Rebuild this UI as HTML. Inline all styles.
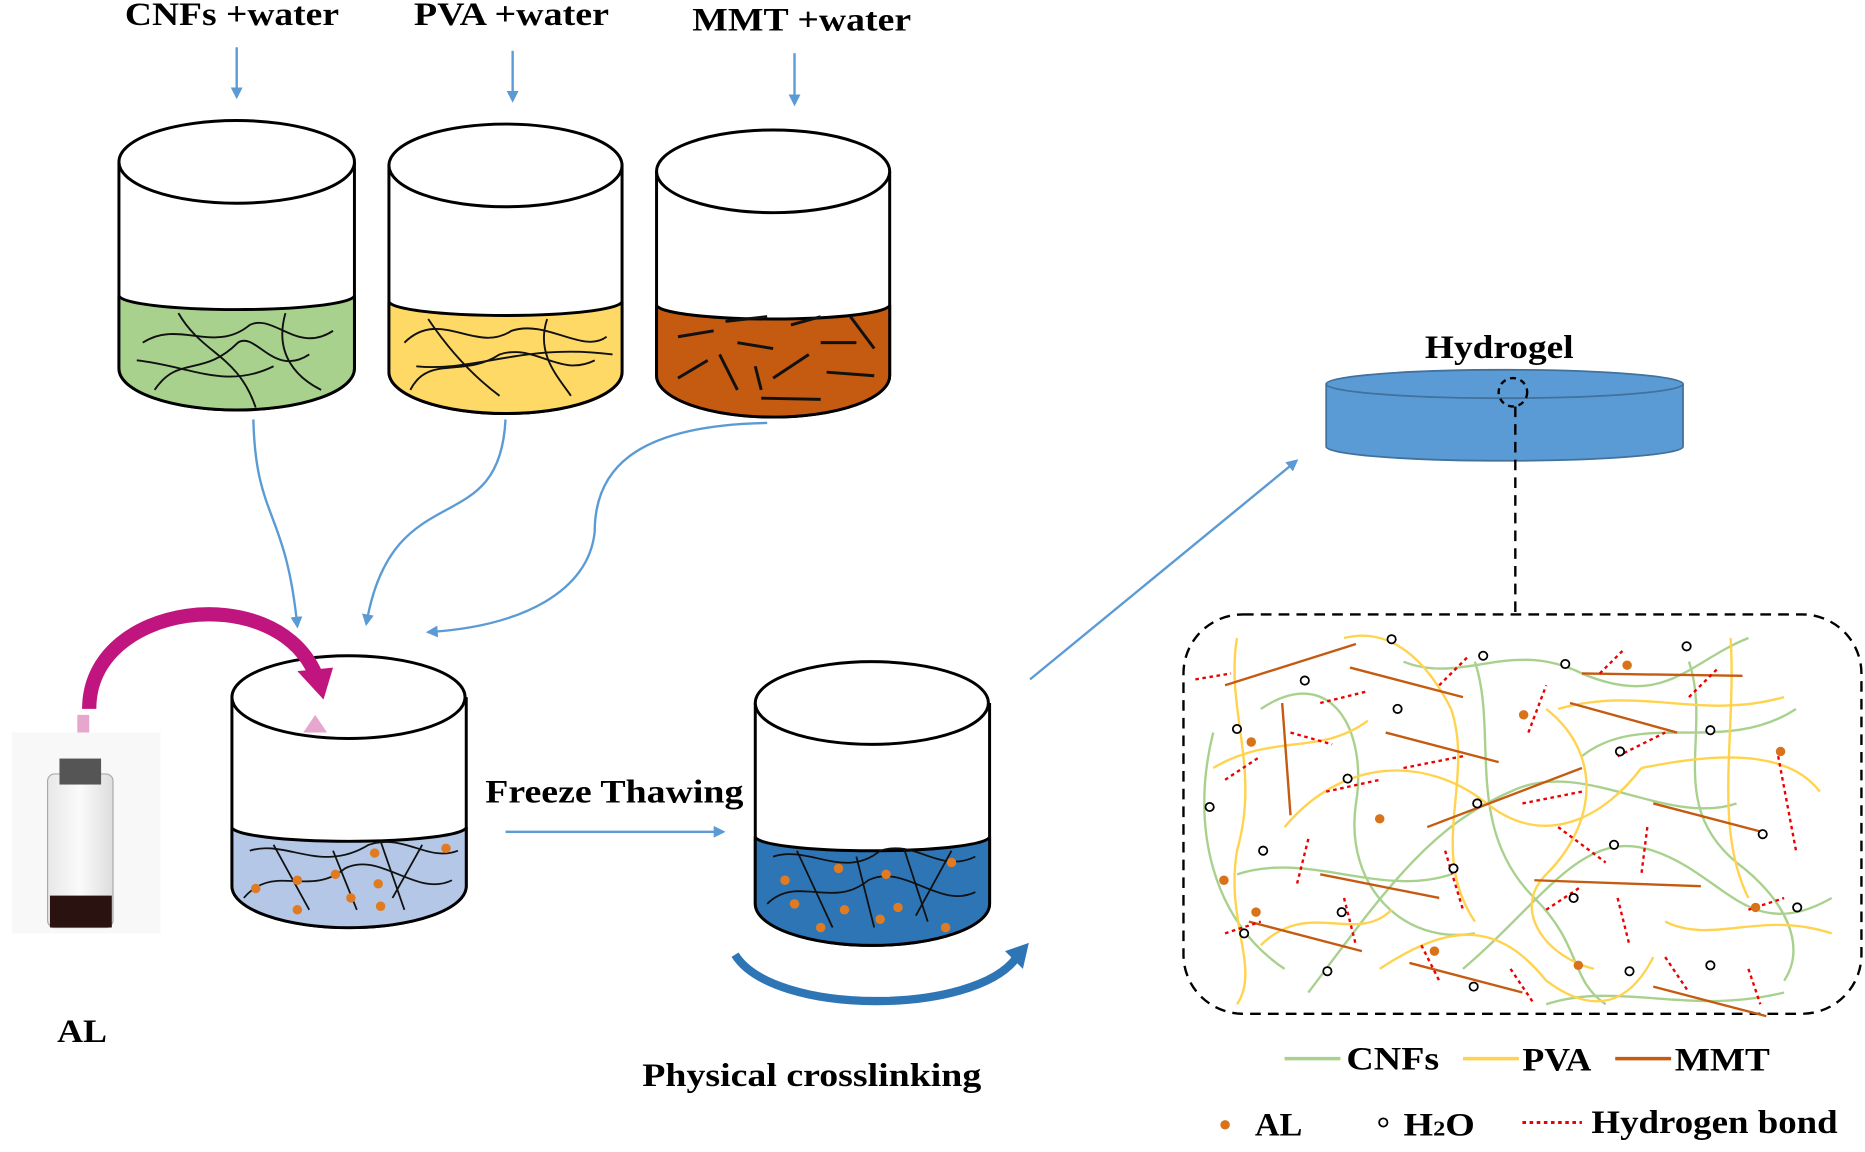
<!DOCTYPE html>
<html><head><meta charset="utf-8"><style>html,body{margin:0;padding:0;background:#fff}svg{display:block}text{font-family:"Liberation Serif",serif;font-weight:bold}</style></head><body>
<svg width="1865" height="1152" viewBox="0 0 1568 975" preserveAspectRatio="none" xmlns="http://www.w3.org/2000/svg">
<defs>
<marker id="ab" markerWidth="10" markerHeight="10" refX="8" refY="5" orient="auto" markerUnits="userSpaceOnUse"><path d="M0,0 L10,5 L0,10 z" fill="#5b9bd5"/></marker>
<linearGradient id="vial" x1="0" x2="1"><stop offset="0" stop-color="#e8e8e8"/><stop offset=".5" stop-color="#fafafa"/><stop offset="1" stop-color="#ddd"/></linearGradient>
</defs>
<g font-size="28" fill="#000" lengthAdjust="spacingAndGlyphs">
<text x="105" y="21" textLength="180" lengthAdjust="spacingAndGlyphs">CNFs +water</text>
<text x="348" y="21" textLength="164" lengthAdjust="spacingAndGlyphs">PVA +water</text>
<text x="582" y="26" textLength="184" lengthAdjust="spacingAndGlyphs">MMT +water</text>
<text x="1198" y="303" textLength="125" lengthAdjust="spacingAndGlyphs">Hydrogel</text>
<text x="408" y="679" textLength="217" lengthAdjust="spacingAndGlyphs">Freeze Thawing</text>
<text x="48" y="882" textLength="42" lengthAdjust="spacingAndGlyphs">AL</text>
<text x="540" y="919" textLength="285" lengthAdjust="spacingAndGlyphs">Physical crosslinking</text>
</g>
<g stroke="#5b9bd5" stroke-width="2" fill="none" marker-end="url(#ab)">
<line x1="199" y1="40" x2="199" y2="82"/>
<line x1="431" y1="43" x2="431" y2="85"/>
<line x1="668" y1="45" x2="668" y2="88"/>
<path d="M213,355 C215,440 240,430 250,530"/>
<path d="M425,355 C420,460 330,400 308,528"/>
<path d="M645,358 C530,360 500,400 500,450 C495,500 440,530 360,535"/>
<line x1="425" y1="704" x2="608" y2="704"/>
<line x1="866" y1="575" x2="1090" y2="390"/>
</g>
<g stroke="#000" stroke-width="2.5">
<path d="M100,137 V312 A99,35 0 0 0 298,312 V137" fill="#fff"/>
<path d="M100,250 A99,12 0 0 0 298,250 V312 A99,35 0 0 1 100,312 Z" fill="#a9d18e"/>
<ellipse cx="199" cy="137" rx="99" ry="35" fill="#fff"/>
<path d="M327,140 V315 A98,35 0 0 0 523,315 V140" fill="#fff"/>
<path d="M327,255 A98,12 0 0 0 523,255 V315 A98,35 0 0 1 327,315 Z" fill="#ffd966"/>
<ellipse cx="425" cy="140" rx="98" ry="35" fill="#fff"/>
<path d="M552,145 V318 A98,35 0 0 0 748,318 V145" fill="#fff"/>
<path d="M552,258 A98,12 0 0 0 748,258 V318 A98,35 0 0 1 552,318 Z" fill="#c55a11"/>
<ellipse cx="650" cy="145" rx="98" ry="35" fill="#fff"/>
<path d="M195,590 V750 A98,35 0 0 0 392,750 V590" fill="#fff"/>
<path d="M195,700 A98,12 0 0 0 392,700 V750 A98,35 0 0 1 195,750 Z" fill="#b4c7e7"/>
<ellipse cx="293" cy="590" rx="98" ry="35" fill="#fff"/>
<path d="M635,595 V765 A98,35 0 0 0 832,765 V595" fill="#fff"/>
<path d="M635,708 A98,12 0 0 0 832,708 V765 A98,35 0 0 1 635,765 Z" fill="#2e75b6"/>
<ellipse cx="733" cy="595" rx="98" ry="35" fill="#fff"/>
</g>
<g stroke="#111" stroke-width="1.6" fill="none">
<path d="M120,290 C150,270 180,300 210,275 C230,265 250,300 280,280"/>
<path d="M130,330 C150,300 170,320 200,290 C215,280 230,320 260,300"/>
<path d="M150,265 C170,300 200,300 215,345"/>
<path d="M240,265 C230,300 250,320 270,330"/>
<path d="M115,305 C160,310 190,330 230,310"/>
<path d="M340,290 C370,260 400,300 430,280 C460,270 490,300 510,285"/>
<path d="M345,330 C360,300 390,320 420,300 C450,290 470,320 500,305"/>
<path d="M360,270 C380,300 400,320 420,335"/>
<path d="M460,270 C450,300 470,320 480,335"/>
<path d="M350,310 C400,315 440,290 515,300"/>
</g>
<g stroke="#111" stroke-width="2.5">
<line x1="570" y1="285" x2="600" y2="280"/><line x1="610" y1="272" x2="645" y2="268"/><line x1="665" y1="275" x2="690" y2="268"/><line x1="715" y1="268" x2="735" y2="295"/>
<line x1="570" y1="320" x2="595" y2="305"/><line x1="605" y1="300" x2="620" y2="330"/><line x1="635" y1="310" x2="640" y2="330"/><line x1="650" y1="320" x2="680" y2="300"/>
<line x1="690" y1="290" x2="720" y2="290"/><line x1="695" y1="315" x2="735" y2="318"/><line x1="640" y1="337" x2="690" y2="338"/><line x1="620" y1="290" x2="650" y2="295"/>
</g>
<g stroke="#111" stroke-width="1.5" fill="none">
<path d="M210,720 C240,710 270,740 310,715 C340,705 360,730 385,720"/>
<path d="M205,760 C230,730 260,760 290,735 C320,720 350,760 380,745"/>
<path d="M230,715 L260,770 M320,712 L340,770 M355,715 L330,760 M280,720 L300,770"/>
<path d="M650,725 C680,715 710,745 740,720 C770,710 790,740 820,725"/>
<path d="M645,765 C670,740 700,770 730,745 C760,730 790,770 820,755"/>
<path d="M670,720 L700,785 M760,718 L780,780 M800,720 L770,775 M720,725 L735,785"/>
</g>
<g fill="#e07b22">
<circle cx="250" cy="745" r="4"/><circle cx="282" cy="740" r="4"/><circle cx="315" cy="722" r="4"/><circle cx="375" cy="718" r="4"/><circle cx="318" cy="748" r="4"/><circle cx="295" cy="760" r="4"/><circle cx="320" cy="767" r="4"/><circle cx="215" cy="752" r="4"/><circle cx="250" cy="770" r="4"/>
<circle cx="660" cy="745" r="4"/><circle cx="705" cy="735" r="4"/><circle cx="745" cy="740" r="4"/><circle cx="800" cy="730" r="4"/><circle cx="668" cy="765" r="4"/><circle cx="710" cy="770" r="4"/><circle cx="755" cy="768" r="4"/><circle cx="690" cy="785" r="4"/><circle cx="795" cy="785" r="4"/><circle cx="740" cy="778" r="4"/>
</g>
<path d="M75,600 C75,510 230,490 265,570" stroke="#c0157f" stroke-width="12" fill="none"/>
<path d="M250,568 L280,565 L272,592 z" fill="#c0157f"/>
<path d="M70,605 V620" stroke="#e6a6cd" stroke-width="10"/>
<path d="M255,620 L275,620 L265,605z" fill="#e6a6cd"/>
<rect x="10" y="620" width="125" height="170" fill="#f3f3f3" opacity=".6"/>
<rect x="40" y="655" width="55" height="130" rx="6" fill="url(#vial)" stroke="#aaa"/>
<rect x="50" y="642" width="35" height="22" fill="#555"/>
<rect x="42" y="758" width="52" height="27" fill="#2a1210"/>
<path d="M618,808 C650,860 820,860 855,810" stroke="#2e75b6" stroke-width="7" fill="none"/>
<path d="M845,805 L865,798 L860,820z" fill="#2e75b6"/>
<path d="M1115,325 V378 A150,12 0 0 0 1415,378 V325" fill="#5b9bd5" stroke="#41719c" stroke-width="1.5"/>
<ellipse cx="1265" cy="325" rx="150" ry="12" fill="#5b9bd5" stroke="#41719c" stroke-width="1.5"/>
<circle cx="1272" cy="332" r="12" fill="none" stroke="#000" stroke-width="2" stroke-dasharray="5,4"/>
<line x1="1274" y1="344" x2="1274" y2="520" stroke="#000" stroke-width="2" stroke-dasharray="9,6"/>
<rect x="995" y="520" width="570" height="338" rx="50" fill="none" stroke="#000" stroke-width="2" stroke-dasharray="9,6"/>
<g fill="none" stroke-width="2">
<g stroke="#a9d18e">
<path d="M1020,620 C1000,700 1020,780 1080,820"/>
<path d="M1060,600 C1120,560 1150,620 1140,680 C1130,750 1180,800 1240,790"/>
<path d="M1100,840 C1160,760 1200,700 1270,670 C1330,640 1400,700 1460,680"/>
<path d="M1180,560 C1230,580 1270,540 1330,570 C1400,600 1420,560 1470,540"/>
<path d="M1230,820 C1300,760 1330,700 1390,720 C1450,740 1470,800 1540,760"/>
<path d="M1330,640 C1380,600 1450,640 1510,600"/>
<path d="M1040,740 C1100,720 1160,760 1220,740"/>
<path d="M1300,850 C1360,830 1420,860 1500,840"/>
<path d="M1240,560 C1260,620 1230,700 1290,760 C1330,800 1320,830 1350,850"/>
<path d="M1420,560 C1440,620 1400,680 1460,730 C1500,760 1520,800 1500,830"/>
</g>
<g stroke="#ffd34d">
<path d="M1040,540 C1030,600 1060,650 1040,720 C1030,780 1060,820 1040,850"/>
<path d="M1130,540 C1170,530 1200,560 1220,600 C1240,660 1200,720 1240,780"/>
<path d="M1080,700 C1130,640 1200,640 1250,680 C1300,720 1350,690 1380,650"/>
<path d="M1160,820 C1220,780 1260,780 1300,830 C1340,860 1370,850 1390,810"/>
<path d="M1300,600 C1350,640 1340,700 1300,740 C1270,770 1300,810 1340,820"/>
<path d="M1455,540 C1460,620 1440,700 1470,760"/>
<path d="M1380,650 C1430,640 1500,630 1530,670"/>
<path d="M1020,650 C1070,620 1110,640 1150,610"/>
<path d="M1400,780 C1440,800 1480,770 1540,790"/>
<path d="M1060,800 C1100,760 1140,800 1170,770"/>
<path d="M1310,600 C1380,580 1430,610 1500,590"/>
</g>
<g stroke="#c55a11">
<line x1="1030" y1="580" x2="1140" y2="545"/><line x1="1135" y1="565" x2="1230" y2="590"/><line x1="1078" y1="595" x2="1085" y2="690"/>
<line x1="1165" y1="620" x2="1260" y2="645"/><line x1="1330" y1="570" x2="1465" y2="572"/><line x1="1320" y1="595" x2="1410" y2="620"/>
<line x1="1200" y1="700" x2="1330" y2="650"/><line x1="1390" y1="680" x2="1485" y2="705"/><line x1="1110" y1="740" x2="1210" y2="760"/>
<line x1="1290" y1="745" x2="1430" y2="750"/><line x1="1050" y1="780" x2="1145" y2="805"/><line x1="1185" y1="815" x2="1280" y2="840"/>
<line x1="1390" y1="835" x2="1485" y2="860"/>
</g>
<g stroke="#e00" stroke-dasharray="3,3">
<line x1="1005" y1="575" x2="1035" y2="570"/><line x1="1110" y1="595" x2="1150" y2="585"/><line x1="1210" y1="580" x2="1235" y2="555"/>
<line x1="1085" y1="620" x2="1120" y2="630"/><line x1="1030" y1="660" x2="1060" y2="640"/><line x1="1180" y1="650" x2="1230" y2="640"/>
<line x1="1115" y1="670" x2="1160" y2="660"/><line x1="1285" y1="620" x2="1300" y2="580"/><line x1="1345" y1="570" x2="1365" y2="550"/>
<line x1="1360" y1="640" x2="1400" y2="620"/><line x1="1420" y1="590" x2="1445" y2="565"/><line x1="1280" y1="680" x2="1330" y2="670"/>
<line x1="1100" y1="710" x2="1090" y2="750"/><line x1="1215" y1="720" x2="1230" y2="770"/><line x1="1310" y1="700" x2="1350" y2="730"/>
<line x1="1385" y1="700" x2="1380" y2="740"/><line x1="1495" y1="640" x2="1510" y2="720"/><line x1="1470" y1="770" x2="1500" y2="760"/>
<line x1="1030" y1="790" x2="1060" y2="780"/><line x1="1130" y1="760" x2="1140" y2="800"/><line x1="1195" y1="800" x2="1210" y2="830"/>
<line x1="1300" y1="770" x2="1330" y2="750"/><line x1="1360" y1="760" x2="1370" y2="800"/><line x1="1400" y1="810" x2="1420" y2="840"/>
<line x1="1270" y1="820" x2="1290" y2="850"/><line x1="1470" y1="820" x2="1480" y2="850"/>
</g>
</g>
<g fill="#fff" stroke="#000" stroke-width="1.5">
<circle cx="1170" cy="541" r="3.5"/><circle cx="1247" cy="555" r="3.5"/><circle cx="1316" cy="562" r="3.5"/><circle cx="1418" cy="547" r="3.5"/>
<circle cx="1097" cy="576" r="3.5"/><circle cx="1175" cy="600" r="3.5"/><circle cx="1040" cy="617" r="3.5"/><circle cx="1438" cy="618" r="3.5"/>
<circle cx="1133" cy="659" r="3.5"/><circle cx="1362" cy="636" r="3.5"/><circle cx="1017" cy="683" r="3.5"/><circle cx="1242" cy="680" r="3.5"/>
<circle cx="1062" cy="720" r="3.5"/><circle cx="1357" cy="715" r="3.5"/><circle cx="1482" cy="706" r="3.5"/><circle cx="1222" cy="735" r="3.5"/>
<circle cx="1128" cy="772" r="3.5"/><circle cx="1323" cy="760" r="3.5"/><circle cx="1511" cy="768" r="3.5"/><circle cx="1046" cy="790" r="3.5"/>
<circle cx="1116" cy="822" r="3.5"/><circle cx="1239" cy="835" r="3.5"/><circle cx="1370" cy="822" r="3.5"/><circle cx="1438" cy="817" r="3.5"/>
</g>
<g fill="#d9731a">
<circle cx="1368" cy="563" r="4"/><circle cx="1281" cy="605" r="4"/><circle cx="1052" cy="628" r="4"/><circle cx="1497" cy="636" r="4"/>
<circle cx="1160" cy="693" r="4"/><circle cx="1029" cy="745" r="4"/><circle cx="1056" cy="772" r="4"/><circle cx="1476" cy="768" r="4"/>
<circle cx="1206" cy="805" r="4"/><circle cx="1327" cy="817" r="4"/>
</g>
<g stroke-width="3">
<line x1="1080" y1="896" x2="1127" y2="896" stroke="#a9d18e"/>
<line x1="1230" y1="896" x2="1277" y2="896" stroke="#ffd34d"/>
<line x1="1358" y1="896" x2="1405" y2="896" stroke="#c55a11"/>
<line x1="1280" y1="950" x2="1330" y2="950" stroke="#e00" stroke-dasharray="3,3" stroke-width="2.5"/>
</g>
<circle cx="1030" cy="952" r="4" fill="#d9731a"/>
<circle cx="1163" cy="950" r="3.5" fill="#fff" stroke="#000" stroke-width="1.5"/>
<g font-size="28" fill="#000">
<text x="1132" y="905" textLength="78" lengthAdjust="spacingAndGlyphs">CNFs</text>
<text x="1280" y="906" textLength="58" lengthAdjust="spacingAndGlyphs">PVA</text>
<text x="1408" y="906" textLength="80" lengthAdjust="spacingAndGlyphs">MMT</text>
<text x="1055" y="961" textLength="40" lengthAdjust="spacingAndGlyphs">AL</text>
<text x="1180" y="961" textLength="60" lengthAdjust="spacingAndGlyphs">H<tspan font-size="18">2</tspan>O</text>
<text x="1338" y="959" textLength="207" lengthAdjust="spacingAndGlyphs">Hydrogen bond</text>
</g>
</svg>
</body></html>
